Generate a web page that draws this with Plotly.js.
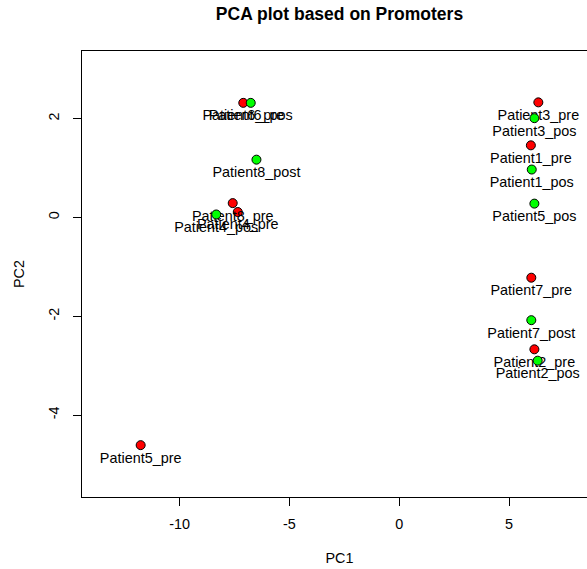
<!DOCTYPE html>
<html>
<head>
<meta charset="utf-8">
<script src="https://cdn.plot.ly/plotly-3.0.1.min.js"></script>
<style>
html,body{margin:0;padding:0;overflow:hidden;background:#fff;}
#chart{width:597px;height:569px;}
</style>
</head>
<body>
<div id="chart"></div>
<script>
// Red = pre-treatment samples
var preNames = ["Patient6_pre","Patient8_pre","Patient4_pre","Patient3_pre","Patient1_pre","Patient7_pre","Patient2_pre","Patient5_pre"];
var prePC1   = [-7.10, -7.58, -7.35, 6.33, 5.99, 6.01, 6.15, -11.77];
var prePC2   = [2.32, 0.29, 0.11, 2.33, 1.46, -1.22, -2.67, -4.61];

// Green = post-treatment samples
var postNames = ["Patient6_pos","Patient8_post","Patient4_pos","Patient3_pos","Patient1_pos","Patient5_pos","Patient7_post","Patient2_pos"];
var postPC1   = [-6.76, -6.50, -8.33, 6.15, 6.03, 6.15, 6.01, 6.30];
var postPC2   = [2.32, 1.17, 0.06, 2.01, 0.97, 0.28, -2.08, -2.90];

var xTicks = [-10, -5, 0, 5];
var yTicks = [-4, -2, 0, 2];

var FONT = "Liberation Sans, Arial, Helvetica, sans-serif";

function trace(x, y, names, color) {
  return {
    type: "scatter", mode: "markers+text",
    x: x, y: y, text: names,
    textposition: "bottom center",
    textfont: {family: FONT, size: 14.4, color: "#000"},
    marker: {size: 9, color: color, line: {color: "#000", width: 1}},
    hoverinfo: "text", showlegend: false, cliponaxis: false
  };
}

var data = [
  trace(prePC1, prePC2, preNames, "#ff0000"),
  trace(postPC1, postPC2, postNames, "#00ff00")
];

var layout = {
  width: 597, height: 569,
  margin: {l: 82, r: 0, t: 51, b: 72, pad: 0},
  paper_bgcolor: "#fff", plot_bgcolor: "#fff",
  font: {family: FONT, size: 14.4, color: "#000"},
  title: {
    text: "<b>PCA plot based on Promoters</b>",
    font: {family: FONT, size: 17.5, color: "#000"},
    xref: "paper", x: 0.5, xanchor: "center",
    yref: "container", y: 1 - 14/569, yanchor: "middle"
  },
  xaxis: {
    range: [-14.44, 9.0], tickvals: xTicks, ticktext: xTicks.map(String),
    showgrid: false, zeroline: false,
    showline: true, mirror: true, linecolor: "#000", linewidth: 1,
    ticks: "outside", ticklen: 8, tickcolor: "#000", tickwidth: 1,
    ticklabelstandoff: 6,
    tickfont: {family: FONT, size: 14.4, color: "#000"},
    title: {text: "PC1", font: {family: FONT, size: 14.4, color: "#000"}, standoff: 21},
    automargin: false
  },
  yaxis: {
    range: [-5.66, 3.37], tickvals: yTicks, ticktext: yTicks.map(String),
    showgrid: false, zeroline: false,
    showline: true, mirror: true, linecolor: "#000", linewidth: 1,
    ticks: "outside", ticklen: 8, tickcolor: "#000", tickwidth: 1,
    tickangle: -90, ticklabelstandoff: 8,
    tickfont: {family: FONT, size: 14.4, color: "#000"},
    title: {text: "PC2", font: {family: FONT, size: 14.4, color: "#000"}, standoff: 18},
    automargin: false
  }
};

Plotly.newPlot("chart", data, layout, {displayModeBar: false, staticPlot: true});
</script>
</body>
</html>
